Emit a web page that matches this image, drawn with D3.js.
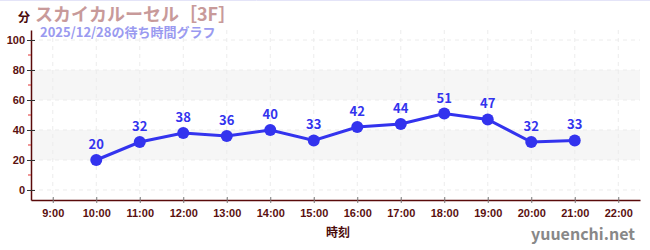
<!DOCTYPE html>
<html>
<head>
<meta charset="utf-8">
<title>スカイカルーセル［3F］</title>
<script src="https://d3js.org/d3.v7.min.js"></script>
<style>
  body { margin: 0; background: #fff; }
  svg { display: block; font-family: "Noto Sans CJK JP", "Noto Sans", sans-serif; }
</style>
</head>
<body>
<svg id="chart" width="650" height="250"></svg>
<script>
  // data
  let hours = [10, 11, 12, 13, 14, 15, 16, 17, 18, 19, 20, 21];
  let waits = [20, 32, 38, 36, 40, 33, 42, 44, 51, 47, 32, 33];
  let xTicks = [9, 10, 11, 12, 13, 14, 15, 16, 17, 18, 19, 20, 21, 22];
  let yTicks = [0, 20, 40, 60, 80, 100];
  let yMinor = [10, 30, 50, 70, 90];
  let bands = [[20, 40], [60, 80]];

  let svg = d3.select("#chart");

  let plotLeft = 31, plotRight = 640, plotTop = 30, plotBottom = 200;

  let x = d3.scaleLinear().domain([8.5, 22.5]).range([plotLeft, plotRight]);
  let y = d3.scaleLinear().domain([-6.67, 106.67]).range([plotBottom, plotTop]);

  // top border
  svg.append("line")
    .attr("x1", 0).attr("x2", 650).attr("y1", 0.5).attr("y2", 0.5)
    .attr("stroke", "#e4e4f8");

  // shaded bands
  svg.selectAll(".band").data(bands).enter().append("rect")
    .attr("x", plotLeft).attr("width", plotRight - plotLeft)
    .attr("y", d => y(d[1])).attr("height", d => y(d[0]) - y(d[1]))
    .attr("fill", "#f6f6f6");

  // grid
  svg.selectAll(".vgrid").data(xTicks).enter().append("line")
    .attr("x1", d => x(d)).attr("x2", d => x(d))
    .attr("y1", plotTop).attr("y2", plotBottom)
    .attr("stroke", "#ececec").attr("stroke-dasharray", "4,4");
  svg.selectAll(".hgrid").data(yTicks).enter().append("line")
    .attr("x1", plotLeft).attr("x2", plotRight)
    .attr("y1", d => y(d)).attr("y2", d => y(d))
    .attr("stroke", "#ececec").attr("stroke-dasharray", "4,4");

  // axes
  let axisColor = "#5a0a0a";
  let xAxis = d3.axisBottom(x).tickValues(xTicks).tickSize(4).tickSizeOuter(0)
    .tickFormat(d => d + ":00");
  let xg = svg.append("g").attr("transform", "translate(0," + plotBottom + ")").call(xAxis);
  xg.select(".domain").attr("stroke", axisColor).attr("stroke-width", 1.5);
  xg.selectAll(".tick line").attr("stroke", "#777").attr("y1", -3).attr("y2", 3);
  xg.selectAll(".tick text").attr("fill", "#5a1010").attr("font-size", 11)
    .attr("font-weight", "bold").attr("dy", "0.9em");

  let yAxis = d3.axisLeft(y).tickValues(yTicks).tickSize(4).tickSizeOuter(0);
  let yg = svg.append("g").attr("transform", "translate(" + plotLeft + ",0)").call(yAxis);
  yg.select(".domain").attr("stroke", axisColor).attr("stroke-width", 1.5);
  yg.selectAll(".tick line").attr("stroke", "#333").attr("x1", -4).attr("x2", 4);
  yg.selectAll(".tick text").attr("fill", "#5a1010").attr("font-size", 11)
    .attr("font-weight", "bold").attr("x", -6);

  svg.selectAll(".minor").data(yMinor).enter().append("line")
    .attr("x1", plotLeft - 3).attr("x2", plotLeft)
    .attr("y1", d => y(d)).attr("y2", d => y(d))
    .attr("stroke", "#e03030");

  // line and points
  let pts = hours.map((h, i) => [h, waits[i]]);
  svg.append("path").datum(pts)
    .attr("fill", "none").attr("stroke", "#3333ee").attr("stroke-width", 3)
    .attr("d", d3.line().x(d => x(d[0])).y(d => y(d[1])));
  svg.selectAll(".dot").data(pts).enter().append("circle")
    .attr("cx", d => x(d[0])).attr("cy", d => y(d[1])).attr("r", 6)
    .attr("fill", "#3333ee");
  svg.selectAll(".lbl").data(pts).enter().append("text")
    .attr("x", d => x(d[0])).attr("y", d => y(d[1]) - 11)
    .attr("text-anchor", "middle").attr("fill", "#3333ee")
    .attr("font-size", 13).attr("font-weight", "bold")
    .text(d => d[1]);

  // titles
  svg.append("text").attr("x", 24).attr("y", 22).attr("text-anchor", "middle")
    .attr("fill", "#4a0a0a").attr("font-size", 12).attr("font-weight", "bold").text("分");
  svg.append("text").attr("x", 35).attr("y", 21)
    .attr("fill", "#c89a9a").attr("font-size", 18).attr("font-weight", "bold")
    .text("スカイカルーセル［3F］");
  svg.append("text").attr("x", 40).attr("y", 37)
    .attr("fill", "#9a9af0").attr("font-size", 13).attr("font-weight", "bold")
    .text("2025/12/28の待ち時間グラフ");
  svg.append("text").attr("x", 338).attr("y", 237).attr("text-anchor", "middle")
    .attr("fill", "#4a0a0a").attr("font-size", 12).attr("font-weight", "bold").text("時刻");
  svg.append("text").attr("x", 635).attr("y", 240).attr("text-anchor", "end")
    .attr("fill", "#888").attr("font-size", 16).attr("font-weight", "bold").text("yuuenchi.net");
</script>
</body>
</html>
